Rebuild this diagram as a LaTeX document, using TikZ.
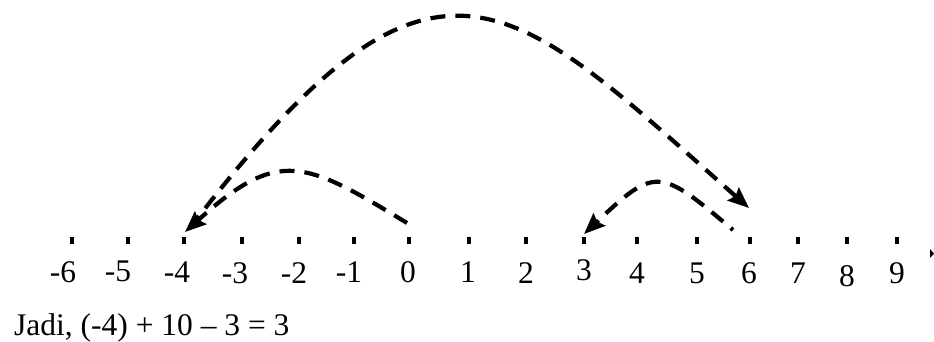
\documentclass[tikz,border=0pt]{standalone}
\usepackage{fontspec}
\setmainfont{Liberation Serif}
\usetikzlibrary{arrows.meta}
\begin{document}
\begin{tikzpicture}[x=1pt,y=-1pt,
  tickmark/.style={fill=black,minimum width=3.5pt,minimum height=7pt,inner sep=0pt,outer sep=0pt},
  lbl/.style={anchor=base,inner sep=0pt,font=\fontsize{31.5}{36}\selectfont},
  jump/.style={line width=4.2pt,dash pattern=on 15pt off 10pt,-{Stealth[length=21pt,width=17pt,inset=3pt]}}]
\useasboundingbox (0,0) rectangle (934,341);
% tick marks
\foreach \n/\x in {-6/72,-5/128,-4/184,-3/242,-2/299,-1/354,0/409,1/469,2/526,3/584,4/637,5/697,6/750,7/798,8/847,9/897}
  \node[tickmark] (t\n) at (\x,240) {};
% labels
\foreach \n/\x/\y in {-6/63/282,-5/118/281,-4/177/282,-3/235/283,-2/294/283,-1/349/282,0/408/282,1/468/282,2/526/283,3/584/280,4/637/283,5/697/283,6/749/283,7/798/283,8/847/286,9/897/283}
  \node[lbl] (l\n) at (\x,\y) {\n};
% small end mark at right
\fill (930,249) -- (934,253.5) -- (930,258) -- cycle;
% equation
\node[lbl,anchor=base west] (eq) at (14,335) {Jadi, (-4) + 10 -- 3 = 3};
% jumps
\coordinate (s0) at (407,223);
\coordinate (em4) at (185,232);
\coordinate (sm4) at (190,228);
\coordinate (e6) at (749,208);
\coordinate (s6) at (733,230);
\coordinate (e3) at (584,234);
\draw[jump] (s0) .. controls (305,161) and (279,147) .. (em4);
\draw[jump] (sm4) .. controls (436,-95) and (510,-3) .. (e6);
\draw[jump,dash phase=12pt] (s6) .. controls (659,167) and (655,167) .. (e3);
\end{tikzpicture}
\end{document}
